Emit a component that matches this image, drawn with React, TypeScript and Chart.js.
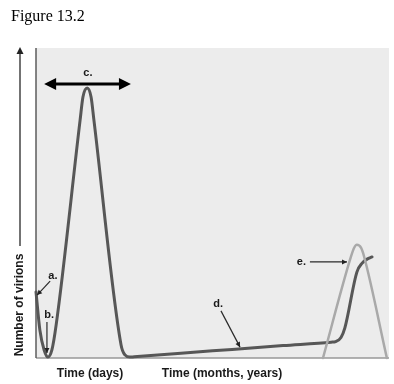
import React, { useEffect, useRef } from "react";
import { Chart, registerables } from "chart.js";

Chart.register(...registerables);

// Dark curve: acute infection peak, then chronic low level, then late rise
const darkX = [0, 1.1, 2.3, 3.4, 4.5, 5.7, 12.5, 13.3, 14.5, 15.6, 16.4, 24.1, 25.2, 26.6, 27.8, 50, 70, 83.6, 84.9, 86.4, 87.5, 90.9, 92.4, 93.8, 95.2];
const darkY = [21.3, 9.0, 2.6, 0.3, 2.6, 10.6, 76.8, 84.2, 87.1, 84.2, 76.8, 4.2, 1.0, 0.3, 0.4, 2.3, 4.0, 5.1, 5.3, 6.6, 9.7, 27.7, 30.6, 31.9, 32.6];
// Light curve: late-stage peak
const lightX = [81.3, 89.2, 90.1, 90.9, 92.1, 92.9, 99.4];
const lightY = [0, 32.6, 35.5, 36.5, 35.5, 32.9, 0];

const title = "Figure 13.2";
const yTitle = "Number of virions";
const xTitles = ["Time (days)", "Time (months, years)"];
const xTitlePos = [15.3, 52.7];

// Labels: text, label x, label y, arrow from (x,y) to (x,y)
const labelText = ["a.", "b.", "c.", "d.", "e."];
const labelX = [4.8, 3.7, 14.7, 51.6, 75.2];
const labelY = [26.5, 14.0, 92.0, 17.5, 31.0];
const arrowFromX = [4.0, 3.1, 14.6, 52.4, 77.6];
const arrowFromY = [24.8, 11.6, 88.4, 15.2, 31.0];
const arrowToX = [0.3, 3.1, 2.3, 57.8, 88.1];
const arrowToY = [20.3, 1.6, 88.4, 3.5, 31.0];
const doubleHeaded = [false, false, true, false, false];

function arrowHead(ctx: CanvasRenderingContext2D, x1: number, y1: number, x2: number, y2: number, len: number, wid: number) {
  const a = Math.atan2(y2 - y1, x2 - x1);
  ctx.beginPath();
  ctx.moveTo(x2, y2);
  ctx.lineTo(x2 - len * Math.cos(a) + wid * Math.sin(a), y2 - len * Math.sin(a) - wid * Math.cos(a));
  ctx.lineTo(x2 - len * Math.cos(a) - wid * Math.sin(a), y2 - len * Math.sin(a) + wid * Math.cos(a));
  ctx.closePath();
  ctx.fill();
}

const decorPlugin = {
  id: "decor",
  beforeDatasetsDraw(chart: any) {
    const { ctx, chartArea: ca } = chart;
    ctx.save();
    ctx.fillStyle = "#ececec";
    ctx.fillRect(ca.left, ca.top, ca.right - ca.left, ca.bottom - ca.top);
    ctx.strokeStyle = "#999999";
    ctx.lineWidth = 1.5;
    ctx.beginPath();
    ctx.moveTo(ca.left, ca.bottom);
    ctx.lineTo(ca.right, ca.bottom);
    ctx.stroke();
    ctx.strokeStyle = "#5c5c5c";
    ctx.lineWidth = 1.5;
    ctx.beginPath();
    ctx.moveTo(ca.left, ca.top);
    ctx.lineTo(ca.left, ca.bottom);
    ctx.stroke();
    ctx.restore();
  },
  afterDraw(chart: any) {
    const { ctx, chartArea: ca } = chart;
    const xs = chart.scales.x;
    const ys = chart.scales.y;
    ctx.save();
    // Title
    ctx.fillStyle = "#000";
    ctx.font = "16px 'Liberation Serif', 'Times New Roman', serif";
    ctx.textAlign = "left";
    ctx.textBaseline = "alphabetic";
    ctx.fillText(title, 11, 21);

    // Y axis arrow and title
    const ax = 20;
    ctx.strokeStyle = "#444";
    ctx.fillStyle = "#222";
    ctx.lineWidth = 1.5;
    ctx.beginPath();
    ctx.moveTo(ax, ca.top + 4);
    ctx.lineTo(ax, 246);
    ctx.stroke();
    arrowHead(ctx, ax, ca.top + 10, ax, ca.top - 1, 7, 3.5);

    ctx.save();
    ctx.translate(ax, 305);
    ctx.rotate(-Math.PI / 2);
    ctx.fillStyle = "#1a1a1a";
    ctx.font = "bold 12px 'Liberation Sans', Arial, sans-serif";
    ctx.textAlign = "center";
    ctx.textBaseline = "middle";
    ctx.fillText(yTitle, 0, 0);
    ctx.restore();

    // X titles
    ctx.fillStyle = "#1a1a1a";
    ctx.font = "bold 12px 'Liberation Sans', Arial, sans-serif";
    ctx.textAlign = "center";
    ctx.textBaseline = "middle";
    xTitles.forEach((t, i) => {
      ctx.fillText(t, xs.getPixelForValue(xTitlePos[i]), ca.bottom + 16);
    });

    // Labels and arrows
    labelText.forEach((t, i) => {
      ctx.fillStyle = "#1a1a1a";
      ctx.font = "bold 11px 'Liberation Sans', Arial, sans-serif";
      ctx.textAlign = "center";
      ctx.textBaseline = "middle";
      ctx.fillText(t, xs.getPixelForValue(labelX[i]), ys.getPixelForValue(labelY[i]));
      const x1 = xs.getPixelForValue(arrowFromX[i]);
      const y1 = ys.getPixelForValue(arrowFromY[i]);
      const x2 = xs.getPixelForValue(arrowToX[i]);
      const y2 = ys.getPixelForValue(arrowToY[i]);
      if (doubleHeaded[i]) {
        const xa = xs.getPixelForValue(arrowToX[i]);
        const xb = xs.getPixelForValue(2 * arrowFromX[i] - arrowToX[i]);
        ctx.strokeStyle = "#000";
        ctx.fillStyle = "#000";
        ctx.lineWidth = 3;
        ctx.beginPath();
        ctx.moveTo(xa + 8, y1);
        ctx.lineTo(xb - 8, y1);
        ctx.stroke();
        arrowHead(ctx, xb - 10, y1, xa, y1, 12, 6);
        arrowHead(ctx, xa + 10, y1, xb, y1, 12, 6);
      } else {
        ctx.strokeStyle = "#2a2a2a";
        ctx.fillStyle = "#222";
        ctx.lineWidth = 1.2;
        ctx.beginPath();
        ctx.moveTo(x1, y1);
        ctx.lineTo(x2, y2);
        ctx.stroke();
        arrowHead(ctx, x1, y1, x2, y2, 5, 2.5);
      }
    });
    ctx.restore();
  },
};

export default function App() {
  const ref = useRef<HTMLCanvasElement>(null);
  useEffect(() => {
    if (!ref.current) return;
    const chart = new Chart(ref.current, {
      type: "line",
      data: {
        datasets: [
          {
            data: lightX.map((x, i) => ({ x, y: lightY[i] })),
            borderColor: "#a9a9a9",
            borderWidth: 2.5,
            pointRadius: 0,
            cubicInterpolationMode: "monotone",
            borderJoinStyle: "round",
            borderCapStyle: "round",
            clip: false,
          } as any,
          {
            data: darkX.map((x, i) => ({ x, y: darkY[i] })),
            borderColor: "#575757",
            borderWidth: 3,
            pointRadius: 0,
            cubicInterpolationMode: "monotone",
            borderJoinStyle: "round",
            borderCapStyle: "round",
            clip: false,
          } as any,
        ],
      },
      options: {
        responsive: false,
        animation: false,
        devicePixelRatio: 1,
        layout: { padding: { left: 36, top: 48, right: 5, bottom: 26 } },
        plugins: { legend: { display: false }, tooltip: { enabled: false }, title: { display: false } },
        scales: {
          x: { type: "linear", min: 0, max: 100, display: false },
          y: { type: "linear", min: 0, max: 100, display: false },
        },
      },
      plugins: [decorPlugin],
    });
    return () => chart.destroy();
  }, []);
  return (
    <div style={{ position: "absolute", left: 0, top: 0, width: 394, height: 384, background: "#fff" }}>
      <canvas ref={ref} width={394} height={384} />
    </div>
  );
}
